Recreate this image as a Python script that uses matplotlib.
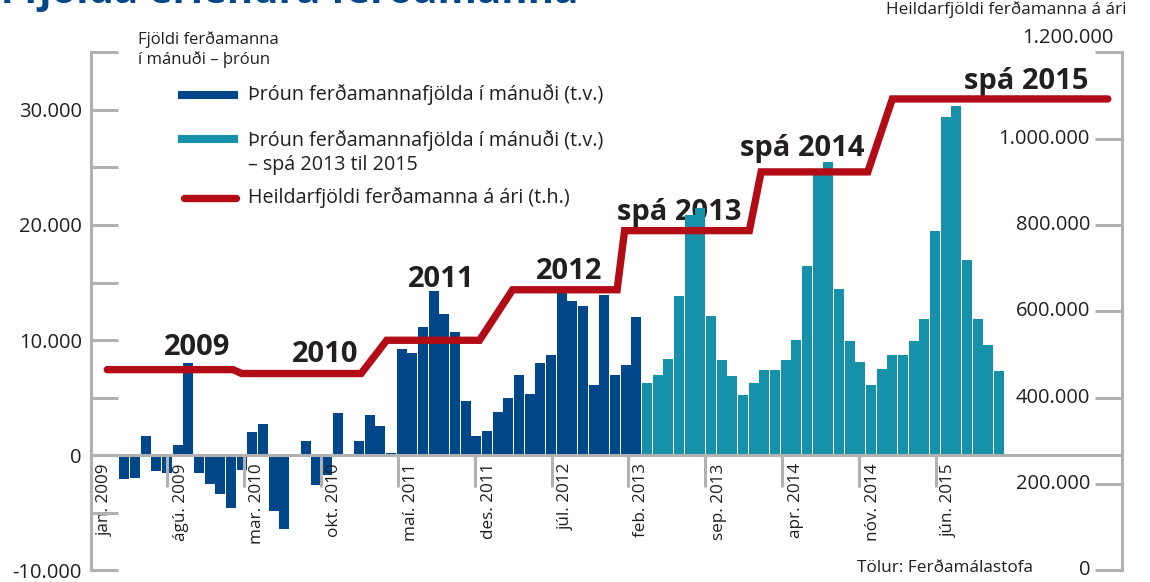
import matplotlib.pyplot as plt
import numpy as np
from matplotlib.lines import Line2D
from matplotlib.transforms import ScaledTranslation, blended_transform_factory

plt.rcParams['font.family'] = ['Open Sans', 'DejaVu Sans']

W, H = 1150, 582
BLUE = '#00478a'
TEAL = '#1591aa'
RED = '#b20d17'
GRAY = '#b1b1b4'
TXT = '#231f20'

# breyting á fjölda ferðamanna í mánuði (raun), jan. 2009 - jan. 2013
raun = [-2100, -2000, 1700, -1400, -1500, 900, 8000, -1500, -2500, -3400,
        -4600, -1300, 2000, 2700, -4800, -6400, 0, 1200, -2600, -1700,
        3700, 100, 1200, 3500, 2500, 200, 9200, 8900, 11100, 14300,
        12300, 10700, 4700, 1700, 2100, 3800, 5000, 7000, 5300, 8000,
        8700, 14200, 13400, 13000, 6100, 13900, 7000, 7800, 12000]
# spá 2013 til 2015
spa = [6300, 7000, 8400, 13800, 20900, 21500, 12100, 8300, 6900, 5200,
       6300, 7400, 7400, 8300, 10000, 16400, 24400, 25500, 14400, 9900,
       8100, 6100, 7500, 8750, 8750, 9900, 11800, 19500, 29400, 30300,
       17000, 11800, 9600, 7300]

# heildarfjöldi á ári (t.h.)
ar = ['2009', '2010', '2011', '2012', 'spá 2013', 'spá 2014', 'spá 2015']
heild = [465000, 456000, 533000, 650000, 787000, 923000, 1092000]
ar_byrjun = [-1.6, 11.0, 24.6, 36.4, 46.9, 59.7, 72.0]
ar_endir = [10.2, 22.2, 33.3, 46.2, 58.6, 69.7, 92.2]
lbl_x = [6.8, 18.8, 29.7, 41.7, 52.0, 63.6, 84.6]
lbl_dy = [15, 12, 53, 11, 11, 16, 10]

tick_lbl = ['jan. 2009', 'ágú. 2009', 'mar. 2010', 'okt. 2010', 'maí. 2011',
            'des. 2011', 'júl. 2012', 'feb. 2013', 'sep. 2013', 'apr. 2014',
            'nóv. 2014', 'jún. 2015']
tick_pos = [-3.12, 4.03, 11.2, 18.41, 25.63, 32.88, 40.1, 47.19, 54.44,
            61.69, 68.91, 76.07]


def px(x, y):
    return x / W, 1 - y / H


def fmt(v):
    return f'{int(v):,}'.replace(',', '.')


fig = plt.figure(figsize=(W / 100, H / 100), dpi=100)
ax = fig.add_axes([91 / W, (H - 570.4) / H, (1122 - 91) / W, (570.4 - 52.3) / H])
ax2 = ax.twinx()

x = np.arange(len(raun) + len(spa))
ax.bar(x[:len(raun)], raun, width=0.92, color=BLUE, zorder=1)
ax.bar(x[len(raun):], spa, width=0.92, color=TEAL, zorder=1)

ax.set_xlim(-3.12, 93.53)
ax.set_ylim(-10000, 35000)
ax2.set_ylim(0, 1200000)

for s in ['top', 'right']:
    ax.spines[s].set_visible(False)
for s in ['top', 'bottom', 'left']:
    ax2.spines[s].set_visible(False)
ax.spines['bottom'].set_position(('data', 0))
for sp in [ax.spines['left'], ax.spines['bottom'], ax2.spines['right']]:
    sp.set_color(GRAY)
    sp.set_linewidth(2.2)

yt = np.arange(-10000, 35001, 5000)
ax.set_yticks(yt)
ax.set_yticklabels([fmt(v) if v % 10000 == 0 else '' for v in yt])
ax.tick_params(axis='y', direction='in', length=19.4, width=2.2, color=GRAY,
               pad=6.5, labelsize=14.5, labelcolor=TXT)

ax.set_xticks(tick_pos)
ax.set_xticklabels(tick_lbl, rotation=90, va='top', ha='center')
ax.tick_params(axis='x', direction='out', length=22.8, width=2.2, color=GRAY,
               pad=-17.1, labelsize=12.3, labelcolor=TXT)
off = ScaledTranslation(13.5 / 100, 0, fig.dpi_scale_trans)
for lab in ax.get_xticklabels():
    lab.set_transform(lab.get_transform() + off)

ax2.set_yticks(np.arange(0, 1200001, 200000))
ax2.set_yticklabels([])
ax2.tick_params(axis='y', direction='in', length=19.4, width=2.2, color=GRAY)
tr = blended_transform_factory(ax2.transAxes, ax2.transData)
for v in ax2.get_yticks():
    dx, dy = (-8, 14) if v == 1200000 else (-32, 0)
    ax2.annotate(fmt(v), (1, v), xycoords=tr, xytext=(dx, dy),
                 textcoords='offset pixels', ha='right', va='center',
                 fontsize=14.5, color=TXT, annotation_clip=False)

# heildarlína
lx, ly = [], []
for a, b, v in zip(ar_byrjun, ar_endir, heild):
    lx += [a, b]
    ly += [v, v]
ax2.plot(lx, ly, color=RED, lw=5.3, solid_capstyle='round', solid_joinstyle='miter')

for t, xc, v, dy in zip(ar, lbl_x, heild, lbl_dy):
    ax.annotate(t, (xc, v), xycoords=ax2.transData, xytext=(0, dy),
                textcoords='offset pixels', ha='center', va='baseline',
                fontsize=21, fontweight='bold', color=TXT, zorder=0.5)

# skýringar
fig.add_artist(Line2D(*zip(px(182, 94.7), px(234, 94.7)), color=BLUE, lw=5.8))
fig.add_artist(Line2D(*zip(px(182, 138.5), px(234, 138.5)), color=TEAL, lw=5.8))
fig.add_artist(Line2D(*zip(px(184, 198), px(236, 198)), color=RED, lw=5.3,
                      solid_capstyle='round'))
fig.text(*px(248.3, 95), 'Þróun ferðamannafjölda í mánuði (t.v.)', fontsize=14.2,
         color=TXT, va='center')
fig.text(*px(248.3, 152.5), 'Þróun ferðamannafjölda í mánuði (t.v.)\n– spá 2013 til 2015',
         fontsize=14.2, color=TXT, va='center', linespacing=1.27)
fig.text(*px(248.3, 198), 'Heildarfjöldi ferðamanna á ári (t.h.)', fontsize=14.2,
         color=TXT, va='center')

fig.text(*px(137.7, 49.5), 'Fjöldi ferðamanna\ní mánuði – þróun', fontsize=12,
         color=TXT, va='center', linespacing=1.25)
fig.text(*px(1126.7, 10), 'Heildarfjöldi ferðamanna á ári', fontsize=12.3,
         color=TXT, va='center', ha='right')
fig.text(*px(1033, 568), 'Tölur: Ferðamálastofa', fontsize=12.4, color=TXT,
         va='center', ha='right')
# fyrirsögn, skorin af efst eins og í frumriti
fig.text(*px(578, 3), 'Þróun fjölda erlendra ferðamanna', fontsize=29,
         fontweight='bold', color=BLUE, ha='right', va='baseline')

fig.savefig('out.png', dpi=100)
